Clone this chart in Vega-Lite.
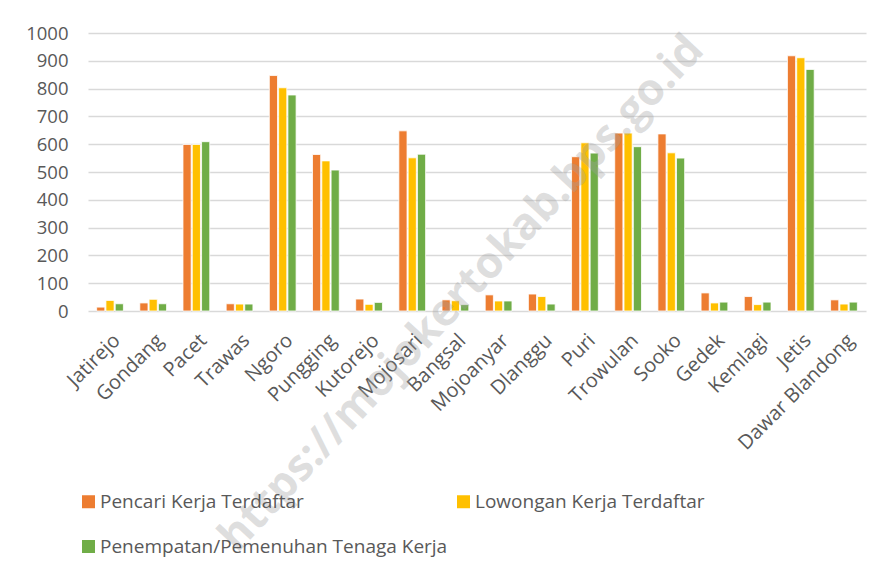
{
  "$schema": "https://vega.github.io/schema/vega-lite/v6.json",
  "width": 778,
  "height": 278,
  "autosize": "none",
  "padding": {"left": 88, "top": 33, "right": 25, "bottom": 268},
  "background": "white",
  "config": {
    "view": {"stroke": null},
    "font": "Open Sans"
  },
  "layer": [
    {
      "data": {
        "values": [
          {"kec": "Jatirejo", "seri": "Pencari Kerja Terdaftar", "v": 14},
          {"kec": "Jatirejo", "seri": "Lowongan Kerja Terdaftar", "v": 38},
          {"kec": "Jatirejo", "seri": "Penempatan/Pemenuhan Tenaga Kerja", "v": 26},
          {"kec": "Gondang", "seri": "Pencari Kerja Terdaftar", "v": 29},
          {"kec": "Gondang", "seri": "Lowongan Kerja Terdaftar", "v": 42},
          {"kec": "Gondang", "seri": "Penempatan/Pemenuhan Tenaga Kerja", "v": 26},
          {"kec": "Pacet", "seri": "Pencari Kerja Terdaftar", "v": 599},
          {"kec": "Pacet", "seri": "Lowongan Kerja Terdaftar", "v": 599},
          {"kec": "Pacet", "seri": "Penempatan/Pemenuhan Tenaga Kerja", "v": 609},
          {"kec": "Trawas", "seri": "Pencari Kerja Terdaftar", "v": 26},
          {"kec": "Trawas", "seri": "Lowongan Kerja Terdaftar", "v": 25},
          {"kec": "Trawas", "seri": "Penempatan/Pemenuhan Tenaga Kerja", "v": 25},
          {"kec": "Ngoro", "seri": "Pencari Kerja Terdaftar", "v": 847},
          {"kec": "Ngoro", "seri": "Lowongan Kerja Terdaftar", "v": 803},
          {"kec": "Ngoro", "seri": "Penempatan/Pemenuhan Tenaga Kerja", "v": 777},
          {"kec": "Pungging", "seri": "Pencari Kerja Terdaftar", "v": 563},
          {"kec": "Pungging", "seri": "Lowongan Kerja Terdaftar", "v": 540},
          {"kec": "Pungging", "seri": "Penempatan/Pemenuhan Tenaga Kerja", "v": 507},
          {"kec": "Kutorejo", "seri": "Pencari Kerja Terdaftar", "v": 43},
          {"kec": "Kutorejo", "seri": "Lowongan Kerja Terdaftar", "v": 24},
          {"kec": "Kutorejo", "seri": "Penempatan/Pemenuhan Tenaga Kerja", "v": 31},
          {"kec": "Mojosari", "seri": "Pencari Kerja Terdaftar", "v": 648},
          {"kec": "Mojosari", "seri": "Lowongan Kerja Terdaftar", "v": 551},
          {"kec": "Mojosari", "seri": "Penempatan/Pemenuhan Tenaga Kerja", "v": 564},
          {"kec": "Bangsal", "seri": "Pencari Kerja Terdaftar", "v": 40},
          {"kec": "Bangsal", "seri": "Lowongan Kerja Terdaftar", "v": 37},
          {"kec": "Bangsal", "seri": "Penempatan/Pemenuhan Tenaga Kerja", "v": 23},
          {"kec": "Mojoanyar", "seri": "Pencari Kerja Terdaftar", "v": 58},
          {"kec": "Mojoanyar", "seri": "Lowongan Kerja Terdaftar", "v": 36},
          {"kec": "Mojoanyar", "seri": "Penempatan/Pemenuhan Tenaga Kerja", "v": 36},
          {"kec": "Dlanggu", "seri": "Pencari Kerja Terdaftar", "v": 61},
          {"kec": "Dlanggu", "seri": "Lowongan Kerja Terdaftar", "v": 52},
          {"kec": "Dlanggu", "seri": "Penempatan/Pemenuhan Tenaga Kerja", "v": 25},
          {"kec": "Puri", "seri": "Pencari Kerja Terdaftar", "v": 555},
          {"kec": "Puri", "seri": "Lowongan Kerja Terdaftar", "v": 605},
          {"kec": "Puri", "seri": "Penempatan/Pemenuhan Tenaga Kerja", "v": 568},
          {"kec": "Trowulan", "seri": "Pencari Kerja Terdaftar", "v": 640},
          {"kec": "Trowulan", "seri": "Lowongan Kerja Terdaftar", "v": 640},
          {"kec": "Trowulan", "seri": "Penempatan/Pemenuhan Tenaga Kerja", "v": 591},
          {"kec": "Sooko", "seri": "Pencari Kerja Terdaftar", "v": 637},
          {"kec": "Sooko", "seri": "Lowongan Kerja Terdaftar", "v": 569},
          {"kec": "Sooko", "seri": "Penempatan/Pemenuhan Tenaga Kerja", "v": 550},
          {"kec": "Gedek", "seri": "Pencari Kerja Terdaftar", "v": 65},
          {"kec": "Gedek", "seri": "Lowongan Kerja Terdaftar", "v": 29},
          {"kec": "Gedek", "seri": "Penempatan/Pemenuhan Tenaga Kerja", "v": 32},
          {"kec": "Kemlagi", "seri": "Pencari Kerja Terdaftar", "v": 52},
          {"kec": "Kemlagi", "seri": "Lowongan Kerja Terdaftar", "v": 23},
          {"kec": "Kemlagi", "seri": "Penempatan/Pemenuhan Tenaga Kerja", "v": 32},
          {"kec": "Jetis", "seri": "Pencari Kerja Terdaftar", "v": 918},
          {"kec": "Jetis", "seri": "Lowongan Kerja Terdaftar", "v": 911},
          {"kec": "Jetis", "seri": "Penempatan/Pemenuhan Tenaga Kerja", "v": 869},
          {"kec": "Dawar Blandong", "seri": "Pencari Kerja Terdaftar", "v": 40},
          {"kec": "Dawar Blandong", "seri": "Lowongan Kerja Terdaftar", "v": 25},
          {"kec": "Dawar Blandong", "seri": "Penempatan/Pemenuhan Tenaga Kerja", "v": 32}
        ]
      },
      "mark": {"type": "bar", "stroke": "white", "strokeWidth": 0.8},
      "encoding": {
        "x": {
          "field": "kec", "type": "nominal", "sort": null, "title": null,
          "scale": {"paddingInner": 0.38, "paddingOuter": 0.2},
          "axis": {
            "labelAngle": -45, "labelFontSize": 20, "labelColor": "#595959",
            "labelPadding": 19, "ticks": false, "domain": false, "labelLimit": 300
          }
        },
        "xOffset": {
          "field": "seri", "type": "nominal",
          "sort": ["Pencari Kerja Terdaftar", "Lowongan Kerja Terdaftar", "Penempatan/Pemenuhan Tenaga Kerja"],
          "scale": {"paddingInner": 0.12}
        },
        "y": {
          "field": "v", "type": "quantitative", "title": null,
          "scale": {"domain": [0, 1000]},
          "axis": {
            "values": [0,100,200,300,400,500,600,700,800,900,1000],
            "format": "d", "labelOverlap": false,
            "labelFontSize": 18.5, "labelColor": "#595959", "labelPadding": 20,
            "ticks": false, "domain": false, "gridColor": "#D9D9D9", "gridWidth": 1.5
          }
        },
        "color": {
          "field": "seri", "type": "nominal", "title": null,
          "sort": ["Pencari Kerja Terdaftar", "Lowongan Kerja Terdaftar", "Penempatan/Pemenuhan Tenaga Kerja"],
          "scale": {
            "domain": ["Pencari Kerja Terdaftar", "Lowongan Kerja Terdaftar", "Penempatan/Pemenuhan Tenaga Kerja"],
            "range": ["#ED7D31", "#FFC000", "#70AD47"]
          },
          "legend": {
            "orient": "none", "legendX": -9, "legendY": 459,
            "direction": "horizontal", "columns": 2,
            "symbolType": "square", "symbolSize": 169,
            "symbolStrokeWidth": 0, "symbolOpacity": 1,
            "labelFontSize": 19, "labelColor": "#595959", "labelOffset": 2,
            "labelLimit": 400, "columnPadding": 6, "rowPadding": 25
          }
        }
      }
    },
    {
      "data": {"values": [{"wm": "https://mojokertokab.bps.go.id"}]},
      "mark": {
        "type": "text",
        "angle": -47, "fontSize": 44, "fontWeight": "bold", "dx": 16, "dy": -6,
        "fill": "#A0A0A0", "fillOpacity": 0.35, "align": "center", "baseline": "middle"
      },
      "encoding": {
        "text": {"field": "wm"},
        "x": {"datum": "Bangsal"},
        "y": {
          "datum": 5,
          "axis": {
            "values": [0,100,200,300,400,500,600,700,800,900,1000],
            "format": "d", "labelOverlap": false,
            "labelFontSize": 18.5, "labelColor": "#595959", "labelPadding": 20,
            "ticks": false, "domain": false, "gridColor": "#D9D9D9", "gridWidth": 1.5
          }
        }
      }
    }
  ]
}
